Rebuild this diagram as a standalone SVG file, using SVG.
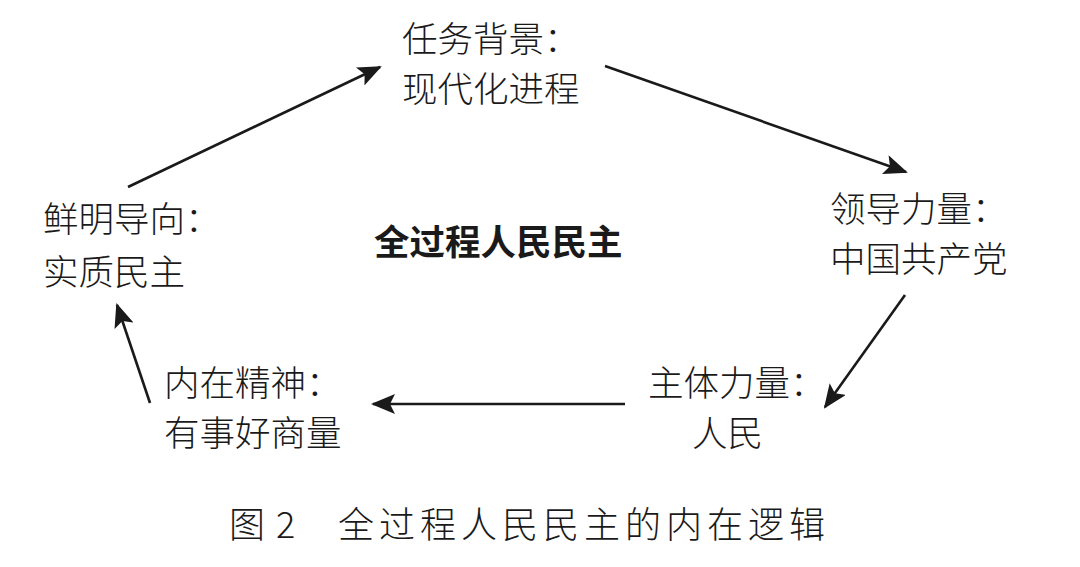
<svg xmlns="http://www.w3.org/2000/svg" width="1080" height="567" viewBox="0 0 1080 567">
<defs>
<style>
.t{font-family:"Noto Sans CJK SC","Noto Sans",sans-serif;font-size:35.5px;fill:#1a1a1a;font-weight:300}
.c{font-family:"Noto Sans CJK SC","Noto Sans",sans-serif;font-size:35.5px;fill:#1a1a1a;font-weight:700}
.cap{font-family:"Noto Sans CJK SC","Liberation Serif",sans-serif;font-size:36px;fill:#1a1a1a;font-weight:300}
.e{stroke:#1a1a1a;stroke-width:2.6;fill:none;marker-end:url(#ah)}
</style>
<marker id="ah" viewBox="0 0 24 20" refX="22" refY="10" markerWidth="24" markerHeight="20" markerUnits="userSpaceOnUse" orient="auto">
<path d="M0,0 L24,10 L0,20 L5,10 Z" fill="#1a1a1a"/>
</marker>
</defs>
<rect width="1080" height="567" fill="#ffffff"/>
<g id="connectors">
<line class="e" x1="128" y1="187" x2="380" y2="67"/>
<line class="e" x1="605" y1="66" x2="906" y2="172"/>
<line class="e" x1="905" y1="295" x2="825" y2="407"/>
<line class="e" x1="625" y1="404" x2="373" y2="404"/>
<line class="e" x1="150" y1="403" x2="117" y2="305"/>
</g>
<g id="n-bg"><text class="t" x="402" y="52">任务背景：</text><text class="t" x="402" y="102">现代化进程</text></g>
<g id="n-ld"><text class="t" x="830" y="222">领导力量：</text><text class="t" x="830" y="272">中国共产党</text></g>
<g id="n-zt"><text class="t" x="648" y="396">主体力量：</text><text class="t" x="692" y="446">人民</text></g>
<g id="n-nz"><text class="t" x="164" y="396">内在精神：</text><text class="t" x="164" y="446">有事好商量</text></g>
<g id="n-xm"><text class="t" x="43" y="232">鲜明导向：</text><text class="t" x="43" y="285">实质民主</text></g>
<g id="n-center"><text class="c" x="374" y="255">全过程人民民主</text></g>
<g id="caption"><text class="cap" x="229" y="538">图</text><text class="cap" x="276" y="538">2</text><text class="cap" x="338" y="538" letter-spacing="5">全过程人民民主的内在逻辑</text></g>
</svg>
